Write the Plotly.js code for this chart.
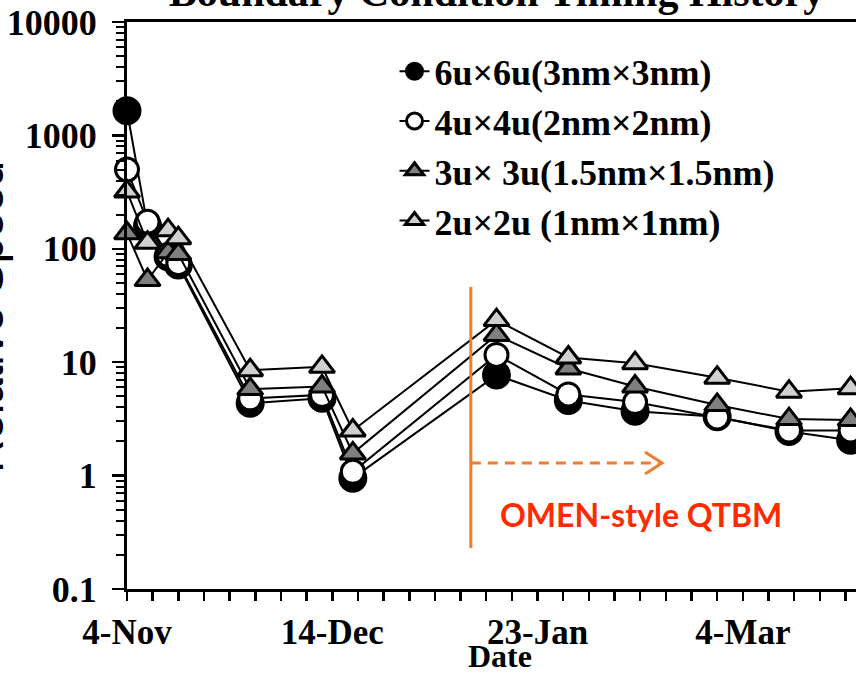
<!DOCTYPE html>
<html><head><meta charset="utf-8">
<script src="https://cdn.plot.ly/plotly-3.0.1.min.js"></script>
<style>
html,body{margin:0;padding:0;width:856px;height:674px;overflow:hidden;background:#fff;}
#chart{position:absolute;left:-40px;top:-40px;width:946px;height:714px;}
</style></head><body><div id="chart"></div>
<script>
// Data
const dates = ['2012-11-04','2012-11-08','2012-11-12','2012-11-14','2012-11-28','2012-12-12','2012-12-18','2013-01-15','2013-01-29','2013-02-11','2013-02-27','2013-03-13','2013-03-25'];
const speed6u = [1650, 160, 85, 72, 4.35, 4.8, 0.95, 7.7, 4.6, 3.7, 3.3, 2.45, 2.05];
const speed4u = [500, 173, 88, 74.5, 4.8, 5.15, 1.08, 11.6, 5.2, 4.45, 3.25, 2.5, 2.5];
const speed3u = [137, 53, 93, 90, 5.8, 6.1, 1.57, 17.4, 8.8, 6.1, 4.2, 3.15, 3.1];
const speed2u = [320, 113, 146, 124, 8.5, 9.1, 2.5, 23.5, 11, 9.8, 7.3, 5.5, 5.9];
const seriesNames = ['6u×6u(3nm×3nm)', '4u×4u(2nm×2nm)', '3u× 3u(1.5nm×1.5nm)', '2u×2u (1nm×1nm)'];
const yTickVals = [0.1, 1, 10, 100, 1000, 10000];
const yTickText = ['0.1', '1', '10', '100', '1000', '10000'];
const xRange = ['2012-11-04', '2013-03-28'];
const qtbmStart = '2013-01-10';
const qtbmArrowEnd = '2013-02-16';

const serif = '"Liberation Serif", "Times New Roman", serif';
function mk(name, y, symbol, fill, size) {
  return {type:'scatter', mode:'lines+markers', x:dates, y:y, name:name, cliponaxis:false,
    line:{color:'#000', width:2},
    marker:{symbol:symbol, size:size, color:fill, line:{color:'#000', width:3}}};
}
const traces = [
  mk(seriesNames[0], speed6u, 'circle', '#000000', 26),
  mk(seriesNames[1], speed4u, 'circle', '#ffffff', 23),
  mk(seriesNames[2], speed3u, 'triangle-up', '#7f7f7f', 22),
  mk(seriesNames[3], speed2u, 'triangle-up', '#d0d0d0', 22)
];
const xTickFont = {family:serif, size:35, color:'#000', weight:'bold'};
const yTickFont = {family:serif, size:36, color:'#000', weight:'bold'};
const layout = {
  width:946, height:714,
  margin:{l:167, r:40, t:62, b:85},
  paper_bgcolor:'#fff', plot_bgcolor:'#fff',
  showlegend:true,
  title:{text:'Boundary Condition Timing History', font:{family:serif, size:42, color:'#000', weight:'bold'},
    xref:'paper', x:0.5, xanchor:'center', yref:'container', y:1-46/714, yanchor:'bottom'},
  xaxis:{type:'date', range:xRange, tick0:'2012-11-04', dtick:40*864e5, tickformat:'%-d-%b',
    ticks:'outside', ticklen:9, tickwidth:2.5, tickcolor:'#000',
    minor:{ticks:'outside', tick0:'2012-11-04', dtick:5*864e5, ticklen:9, tickwidth:2.5, tickcolor:'#000', showgrid:false},
    showline:true, linewidth:3, linecolor:'#000', mirror:true, showgrid:false, zeroline:false,
    tickfont:xTickFont, ticklabelstandoff:1},
  yaxis:{type:'log', range:[-1,4], tickmode:'array', tickvals:yTickVals, ticktext:yTickText,
    ticks:'outside', ticklen:12, tickwidth:2.5, tickcolor:'#000',
    minor:{ticks:'outside', dtick:'D1', ticklen:8, tickwidth:2, tickcolor:'#000', showgrid:false},
    showline:true, linewidth:3, linecolor:'#000', mirror:true, showgrid:false, zeroline:false,
    tickfont:yTickFont, ticklabelstandoff:8},
  legend:{x:0.362, xanchor:'left', y:0.966, yanchor:'top', bgcolor:'rgba(0,0,0,0)',
    font:{family:serif, size:36, color:'#000', weight:'bold'}, tracegroupgap:0},
  shapes:[
    {type:'line', xref:'x', yref:'paper', x0:qtbmStart, x1:qtbmStart, y0:0.0723, y1:0.5326, line:{color:'#ED7D31', width:3}},
    {type:'line', xref:'x', yref:'paper', x0:qtbmStart, x1:qtbmArrowEnd, y0:0.2222, y1:0.2222, line:{color:'#ED7D31', width:3, dash:'10px,7px'}},
    {type:'path', xref:'paper', yref:'paper', path:'M 0.701,0.2416 L 0.724,0.2222 L 0.701,0.2028', line:{color:'#ED7D31', width:3}}
  ],
  annotations:[
    {text:'OMEN-style QTBM', xref:'paper', yref:'paper', x:0.6955, y:0.132, xanchor:'center', yanchor:'middle', showarrow:false,
     font:{family:'Lato, "Open Sans", sans-serif', size:32, color:'#FF2A00', weight:'bold'}},
    {text:'Relative Speed', xref:'paper', yref:'paper', x:-0.1894, y:0.48, xanchor:'center', yanchor:'middle', showarrow:false,
     textangle:-90, font:{family:'"Liberation Sans", Arial, sans-serif', size:46, color:'#000'}},
    {text:'Date', xref:'paper', yref:'paper', x:0.505, y:-0.119, xanchor:'center', yanchor:'middle', showarrow:false,
     font:{family:serif, size:32, color:'#000', weight:'bold'}}
  ],
  hovermode:false
};
Plotly.newPlot('chart', traces, layout, {displayModeBar:false, staticPlot:true});
</script></body></html>
